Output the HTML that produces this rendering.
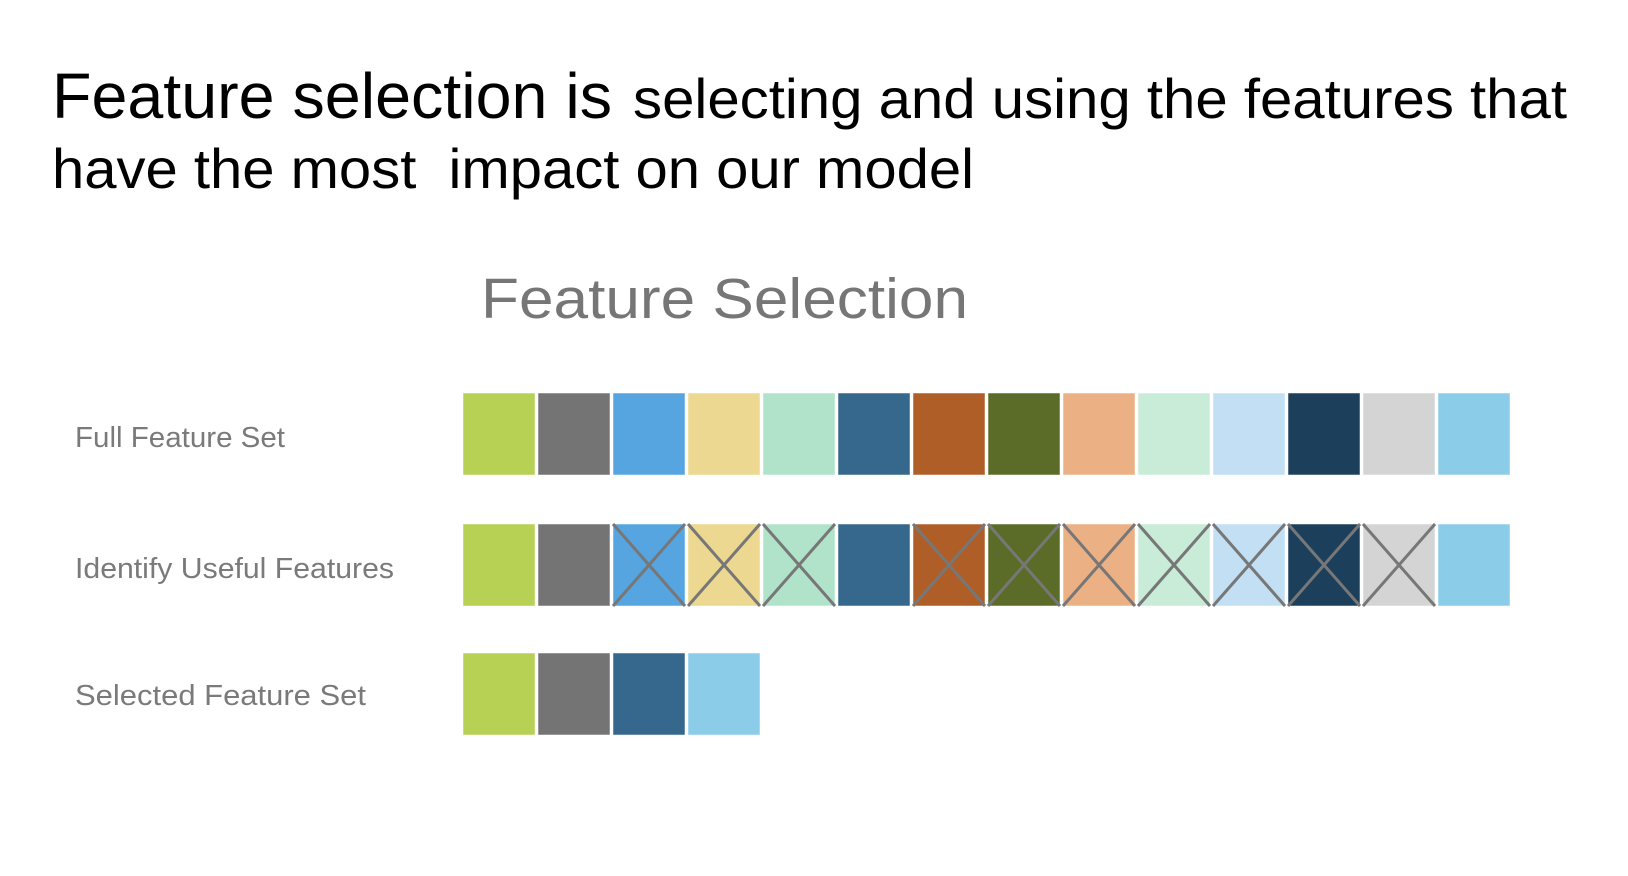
<!DOCTYPE html>
<html><head><meta charset="utf-8"><style>
html,body{margin:0;padding:0;background:#fff;width:1628px;height:876px;overflow:hidden}
svg{display:block}
</style></head><body>
<svg id="chart" width="1628" height="876" viewBox="0 0 1628 876" xmlns="http://www.w3.org/2000/svg">
<text y="118" font-family="Liberation Sans, sans-serif" fill="#000"><tspan x="52" font-size="64" textLength="560" lengthAdjust="spacingAndGlyphs">Feature selection is</tspan><tspan x="633" font-size="56" textLength="934" lengthAdjust="spacingAndGlyphs">selecting and using the features that</tspan></text>
<text x="52" y="188" font-family="Liberation Sans, sans-serif" font-size="56" fill="#000" textLength="922" lengthAdjust="spacingAndGlyphs" xml:space="preserve">have the most  impact on our model</text>
<text x="481" y="318" font-family="Liberation Sans, sans-serif" font-size="57" fill="#767676" textLength="487" lengthAdjust="spacingAndGlyphs">Feature Selection</text>
<g id="labels"></g>
<g id="blocks"></g>
</svg>
<script>
const featureColors = ["#b6d154","#747474","#56a5e1","#ecd890","#b1e2ca","#36678c","#b05e28","#5b6b28","#ecb085","#c9ecd9","#c2dff4","#1c3f5c","#d4d4d4","#8bcce8"];
const crossedFeatures = [2,3,4,6,7,8,9,10,11,12];
const selectedFeatures = [0,1,5,13];
const rowLabels = ["Full Feature Set","Identify Useful Features","Selected Feature Set"];
const labelWidths = [210,319,291];

const NS="http://www.w3.org/2000/svg";
const rowTop=[393,524,653], rowBase=[447,578,705];
const x0=463, pitch=75, bw=72, bh=82;
const xPos=i=>x0+i*pitch;
const labels=document.getElementById('labels'), blocks=document.getElementById('blocks');
rowLabels.forEach((t,r)=>{
  const el=document.createElementNS(NS,'text');
  
  
  el.setAttribute('x',75);el.setAttribute('y',rowBase[r]);
  el.setAttribute('font-family','Liberation Sans, sans-serif');
  el.setAttribute('font-size','29');el.setAttribute('fill','#7a7a7a');
  el.setAttribute('textLength',labelWidths[r]);el.setAttribute('lengthAdjust','spacingAndGlyphs');
  el.textContent=t;labels.appendChild(el);
});
function block(x,y,c){
  const r=document.createElementNS(NS,'rect');
  
  
  r.setAttribute('x',x);r.setAttribute('y',y);r.setAttribute('width',bw);r.setAttribute('height',bh);
  r.setAttribute('fill',c);r.setAttribute('stroke','rgba(255,255,255,0.5)');r.setAttribute('stroke-width','1');
  blocks.appendChild(r);
}
featureColors.forEach((c,i)=>block(xPos(i),rowTop[0],c));
featureColors.forEach((c,i)=>{
  block(xPos(i),rowTop[1],c);
  if(crossedFeatures.includes(i)){
    const x=xPos(i),y=rowTop[1];
    [[x,y,x+bw,y+bh],[x+bw,y,x,y+bh]].forEach(p=>{
      const l=document.createElementNS(NS,'line');
      
      
      l.setAttribute('x1',p[0]);l.setAttribute('y1',p[1]);l.setAttribute('x2',p[2]);l.setAttribute('y2',p[3]);
      l.setAttribute('stroke','#777');l.setAttribute('stroke-width','3');
      blocks.appendChild(l);
    });
  }
});
selectedFeatures.forEach((f,k)=>block(xPos(k),rowTop[2],featureColors[f]));
</script>
</body></html>
